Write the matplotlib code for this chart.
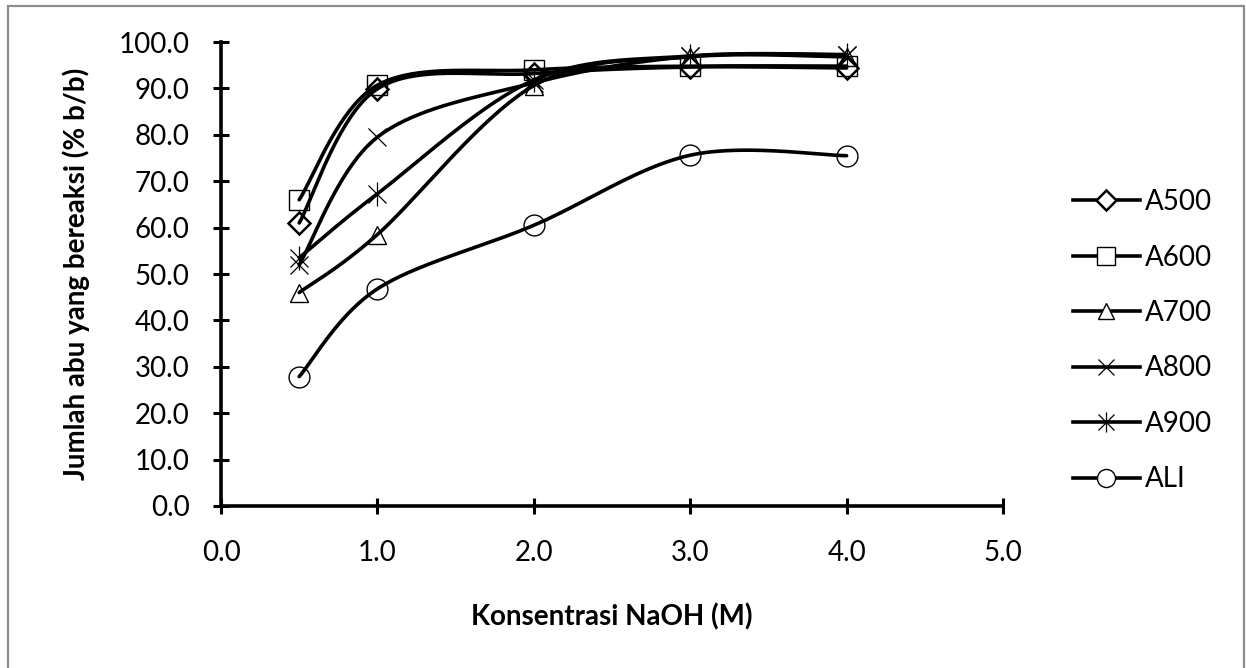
import numpy as np
import matplotlib
matplotlib.use('Agg')
import matplotlib.pyplot as plt
from matplotlib.patches import Rectangle
from matplotlib.lines import Line2D
from matplotlib.legend_handler import HandlerTuple

plt.rcParams['font.family'] = ['Lato', 'DejaVu Sans']

# data
konsentrasi = [0.5, 1.0, 2.0, 3.0, 4.0]
a500 = [61.0, 89.9, 93.2, 94.6, 94.4]
a600 = [66.0, 90.7, 94.0, 94.8, 94.8]
a700 = [46.0, 58.5, 90.6, 96.8, 96.8]
a800 = [52.0, 79.5, 91.2, 96.9, 97.2]
a900 = [53.5, 67.3, 91.8, 97.0, 97.3]
ali = [27.9, 46.8, 60.5, 75.6, 75.5]

names = ['A500', 'A600', 'A700', 'A800', 'A900', 'ALI']
series = [a500, a600, a700, a800, a900, ali]


def smooth(x, y, n=40):
    # Catmull-Rom / Bezier smoothing like the spreadsheet "smoothed line"
    p = np.column_stack([x, y]).astype(float)
    ext = np.vstack([p[0], p, p[-1]])
    out = []
    t = np.linspace(0, 1, n)[:, None]
    for i in range(1, len(ext) - 2):
        p0, p3 = ext[i], ext[i + 1]
        c1 = p0 + (ext[i + 1] - ext[i - 1]) / 6.0
        c2 = p3 - (ext[i + 2] - ext[i]) / 6.0
        seg = ((1 - t) ** 3) * p0 + 3 * ((1 - t) ** 2) * t * c1 + 3 * (1 - t) * t ** 2 * c2 + t ** 3 * p3
        out.append(seg if i == 1 else seg[1:])
    out = np.vstack(out)
    return out[:, 0], out[:, 1]


fig = plt.figure(figsize=(12.46, 6.68), dpi=100)
ax = fig.add_axes([221 / 1246, 1 - 506 / 668, (1003 - 221) / 1246, (506 - 42) / 668])

lw = 2.6
fs = 20
mk = dict(fillstyle='none', color='black', linestyle='none')
for nm, ys in zip(names, series):
    sx, sy = smooth(konsentrasi, ys)
    ax.plot(sx, sy, color='black', lw=lw, solid_capstyle='round', zorder=2)

ax.plot(konsentrasi, a500, marker='D', markersize=11, markeredgewidth=1.8, **mk, zorder=3)
ax.plot(konsentrasi, a600, marker='s', markersize=15, markeredgewidth=1.0, **mk, zorder=3)
ax.plot(konsentrasi, a700, marker='^', markersize=13, markeredgewidth=1.0, **mk, zorder=3)
ax.plot(konsentrasi, a800, marker='x', markersize=13, markeredgewidth=0.9, **mk, zorder=3)
ax.plot(konsentrasi, a900, marker='x', markersize=13, markeredgewidth=0.9, **mk, zorder=3)
ax.plot(konsentrasi, a900, marker='|', markersize=17, markeredgewidth=0.9, **mk, zorder=3)
ax.plot(konsentrasi, ali, marker='o', markersize=15, markeredgewidth=1.0, **mk, zorder=3)

line = dict(color='black', lw=lw)
h500 = Line2D([], [], marker='D', markersize=10, markeredgewidth=1.8, markerfacecolor='white', markeredgecolor='black', **line)
h600 = Line2D([], [], marker='s', markersize=13, markeredgewidth=1.0, markerfacecolor='white', markeredgecolor='black', **line)
h700 = Line2D([], [], marker='^', markersize=12, markeredgewidth=1.0, markerfacecolor='white', markeredgecolor='black', **line)
h800 = Line2D([], [], marker='x', markersize=12, markeredgewidth=0.9, markeredgecolor='black', **line)
h900a = Line2D([], [], marker='x', markersize=12, markeredgewidth=0.9, markeredgecolor='black', **line)
h900b = Line2D([], [], marker='|', markersize=15, markeredgewidth=0.9, markeredgecolor='black', linestyle='none')
hali = Line2D([], [], marker='o', markersize=13, markeredgewidth=1.0, markerfacecolor='white', markeredgecolor='black', **line)

leg = fig.legend([h500, h600, h700, h800, (h900a, h900b), hali], names,
                 handler_map={tuple: HandlerTuple(ndivide=1, pad=0)},
                 loc='upper left', bbox_to_anchor=(1062 / 1246, 1 - 178 / 668),
                 frameon=False, fontsize=fs, handlelength=2.4, handletextpad=0.2,
                 labelspacing=1.06, borderaxespad=0)

ax.set_xlim(0, 5)
ax.set_ylim(0, 100)
ax.set_xticks(np.arange(0, 6, 1.0))
ax.set_yticks(np.arange(0, 101, 10.0))
ax.xaxis.set_major_formatter(plt.FormatStrFormatter('%.1f'))
ax.yaxis.set_major_formatter(plt.FormatStrFormatter('%.1f'))
ax.tick_params(direction='inout', length=11, width=2.2, labelsize=fs, color='black')
ax.tick_params(axis='y', pad=17)
ax.tick_params(axis='x', pad=19)
for s in ['top', 'right']:
    ax.spines[s].set_visible(False)
for s in ['left', 'bottom']:
    ax.spines[s].set_linewidth(2.6)

ax.set_xlabel('Konsentrasi NaOH (M)', fontsize=fs, fontweight='bold', labelpad=27)
ax.set_ylabel('Jumlah abu yang bereaksi (% b/b)', fontsize=fs, fontweight='bold', labelpad=21)

# grey frame around the chart area
fig.add_artist(Rectangle((8 / 1246, -0.05), (1244 - 8) / 1246, 1 - 6 / 668 + 0.05,
                         transform=fig.transFigure, fill=False, edgecolor='#8c8c8c', lw=1.6))

fig.savefig('out.png', dpi=100)
